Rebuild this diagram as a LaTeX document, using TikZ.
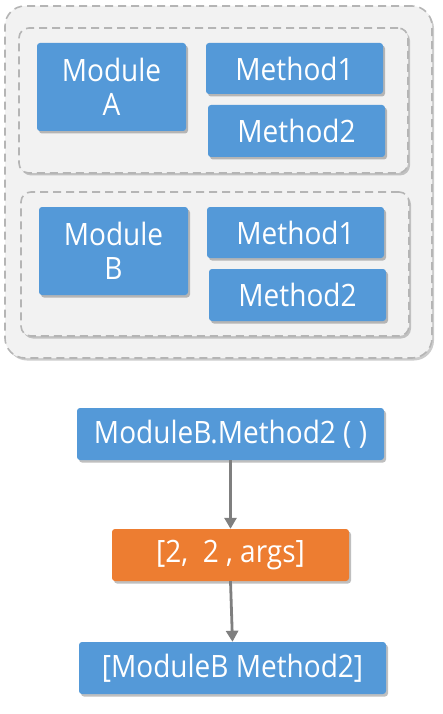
\documentclass[tikz,border=0pt]{standalone}
\usepackage{fontspec}
\setmainfont{Open Sans}
\usetikzlibrary{shadows,arrows.meta}
\definecolor{boxblue}{HTML}{5499D8}
\definecolor{boxorange}{HTML}{ED7D31}
\definecolor{panelgray}{HTML}{F2F2F2}
\definecolor{dashgray}{HTML}{B5B5B5}
\definecolor{arrowgray}{HTML}{7F7F7F}
\newcommand{\lbl}[1]{\scalebox{1}[1.1]{#1}}
\tikzset{
  bluebox/.style={draw=none, fill=boxblue, rounded corners=3pt, inner sep=0pt,
    text=white, align=center, font=\fontsize{28}{34}\selectfont,
    drop shadow={shadow xshift=2pt, shadow yshift=-2.5pt, opacity=0.25, fill=black}},
  orangebox/.style={bluebox, fill=boxorange},
  panel/.style={draw=dashgray, line width=1.6pt, dash pattern=on 8pt off 5pt,
    fill=panelgray, inner sep=0pt,
    drop shadow={shadow xshift=2pt, shadow yshift=-2.5pt, opacity=0.2, fill=black}},
  flow/.style={draw=arrowgray, line width=2.8pt, -{Triangle[length=11pt,width=12pt]}}
}
\begin{document}
\begin{tikzpicture}[x=1pt,y=-1pt]
\useasboundingbox (0,0) rectangle (443,714);
% outer panel
\node[panel, rounded corners=20pt, minimum width=427pt, minimum height=352pt] (outer) at (218.5,182) {};
% inner panels
\node[panel, rounded corners=10pt, minimum width=389pt, minimum height=145pt] (pa) at (213.5,100.5) {};
\node[panel, rounded corners=10pt, minimum width=388pt, minimum height=144pt] (pb) at (215,264) {};
% module A
\node[bluebox, minimum width=149pt, minimum height=88pt] (ma) at (111.5,87) {\lbl{Module}\\\lbl{A}};
\node[bluebox, minimum width=177pt, minimum height=51pt] (ma1) at (294.5,68.5) {\lbl{Method1}};
\node[bluebox, minimum width=177pt, minimum height=52pt] (ma2) at (296.5,131) {\lbl{Method2}};
% module B
\node[bluebox, minimum width=149pt, minimum height=88pt] (mb) at (113.5,251) {\lbl{Module}\\\lbl{B}};
\node[bluebox, minimum width=177pt, minimum height=51pt] (mb1) at (295.5,232.5) {\lbl{Method1}};
\node[bluebox, minimum width=177pt, minimum height=52pt] (mb2) at (297.5,295) {\lbl{Method2}};
% flow
\node[bluebox, minimum width=307pt, minimum height=52pt] (call) at (230.5,434) {\lbl{ModuleB.Method2 ( )}};
\node[orangebox, minimum width=237pt, minimum height=52pt] (args) at (230.5,555) {\lbl{[2, \ 2 , args]}};
\node[bluebox, minimum width=307pt, minimum height=52pt] (res) at (232.5,668) {\lbl{[ModuleB Method2]}};
\draw[flow] (call.south) -- (args.north);
\draw[flow] (args.south) -- (res.north);
\end{tikzpicture}
\end{document}
